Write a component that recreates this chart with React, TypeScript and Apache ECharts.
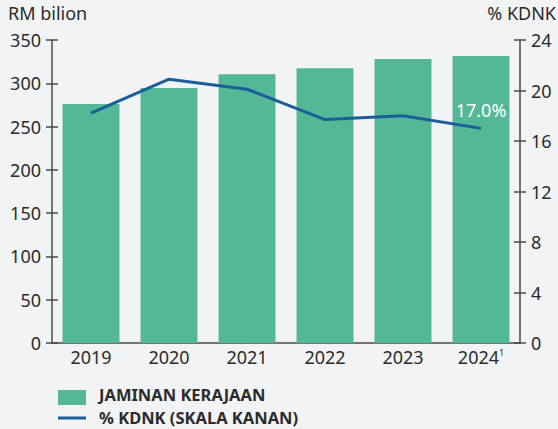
import React, { useEffect, useRef } from "react";
import * as echarts from "echarts";

const years = ["2019", "2020", "2021", "2022", "2023", "2024"];
const guarantees = [276, 294.5, 310.5, 317.5, 328, 331.5];
const gdpShare = [18.2, 20.9, 20.1, 17.7, 18.0, 17.0];
const leftTitle = "RM bilion";
const rightTitle = "% KDNK";
const barName = "JAMINAN KERAJAAN";
const lineName = "% KDNK (SKALA KANAN)";

const FONT = "'Noto Sans', 'Open Sans', sans-serif";
const TXT = "#2b2b2b";
const AX = "#4a4a4a";
const BAR = "#54b795";
const LINE = "#1d5e9a";
const FS = 18;

export default function App() {
  const ref = useRef<HTMLDivElement>(null);
  useEffect(() => {
    if (!ref.current) return;
    const chart = echarts.init(ref.current, null, { renderer: "svg" });
    const yBase = {
      type: "value",
      splitLine: { show: false },
    };
    const tick = { show: true, length: 6, lineStyle: { color: AX, width: 1.5 } };
    const lbl = { fontFamily: FONT, fontSize: FS, color: TXT, margin: 11 };
    const legendText = (text: string, y: number) => ({
      type: "text",
      x: 99,
      y,
      style: {
        text,
        fontFamily: FONT,
        fontSize: 16.5,
        lineHeight: 16.5,
        fontWeight: "bold",
        fill: TXT,
        verticalAlign: "middle",
      },
    });
    chart.setOption({
      animation: false,
      backgroundColor: "#f2f3f5",
      textStyle: { fontFamily: FONT },
      grid: { left: 52, right: 38, top: 40, bottom: 86, containLabel: false },
      graphic: [
        {
          type: "text",
          left: 8,
          top: 4,
          style: { text: leftTitle, fontFamily: FONT, fontSize: FS, fill: TXT },
        },
        {
          type: "text",
          right: 2,
          top: 4,
          style: { text: rightTitle, fontFamily: FONT, fontSize: FS, fill: TXT },
        },
        {
          type: "rect",
          shape: { x: 58, y: 390, width: 28, height: 15 },
          style: { fill: BAR },
        },
        {
          type: "line",
          shape: { x1: 58, y1: 418, x2: 86, y2: 418 },
          style: { stroke: LINE, lineWidth: 3 },
        },
        legendText(barName, 394.8),
        legendText(lineName, 417.4),
      ],
      xAxis: {
        type: "category",
        data: years,
        axisLine: { show: true, lineStyle: { color: AX, width: 1.5 } },
        axisTick: { show: false },
        axisLabel: {
          fontFamily: FONT,
          fontSize: FS,
          color: TXT,
          margin: 5,
          interval: 0,
          formatter: (v: string, i: number) =>
            i === years.length - 1 ? `${v}{s|1}` : v,
          rich: {
            s: { fontSize: 9, verticalAlign: "top", color: TXT, padding: [0, 0, 8, 0] },
          },
        },
      },
      yAxis: [
        {
          ...yBase,
          min: 0,
          max: 350,
          interval: 50,
          position: "left",
          axisLine: { show: true, lineStyle: { color: AX, width: 1.5 } },
          axisTick: tick,
          axisLabel: lbl,
        },
        {
          ...yBase,
          min: 0,
          max: 24,
          interval: 4,
          position: "right",
          axisLine: { show: true, lineStyle: { color: AX, width: 1.5 } },
          axisTick: tick,
          axisLabel: lbl,
        },
        {
          ...yBase,
          min: 0,
          max: 350,
          interval: 50,
          position: "left",
          axisLine: { show: false },
          axisTick: { ...tick, inside: true },
          axisLabel: { show: false },
        },
        {
          ...yBase,
          min: 0,
          max: 24,
          interval: 4,
          position: "right",
          axisLine: { show: false },
          axisTick: { ...tick, inside: true },
          axisLabel: { show: false },
        },
      ],
      series: [
        {
          name: barName,
          type: "bar",
          data: guarantees,
          yAxisIndex: 0,
          barCategoryGap: "27%",
          itemStyle: { color: BAR },
        },
        {
          name: lineName,
          type: "line",
          data: gdpShare.map((v, i) =>
            i === gdpShare.length - 1
              ? {
                  value: v,
                  label: {
                    show: true,
                    position: "top",
                    distance: 9,
                    formatter: (p: any) => `${Number(p.value).toFixed(1)}%`,
                    color: "#ffffff",
                    fontFamily: FONT,
                    fontSize: FS,
                  },
                }
              : v
          ),
          yAxisIndex: 1,
          symbol: "circle",
          symbolSize: 0.1,
          showSymbol: true,
          lineStyle: { color: LINE, width: 3 },
          itemStyle: { color: LINE },
          z: 5,
        },
      ],
    });
    return () => chart.dispose();
  }, []);
  return <div ref={ref} style={{ width: 558, height: 429, position: "fixed", left: 0, top: 0 }} />;
}
